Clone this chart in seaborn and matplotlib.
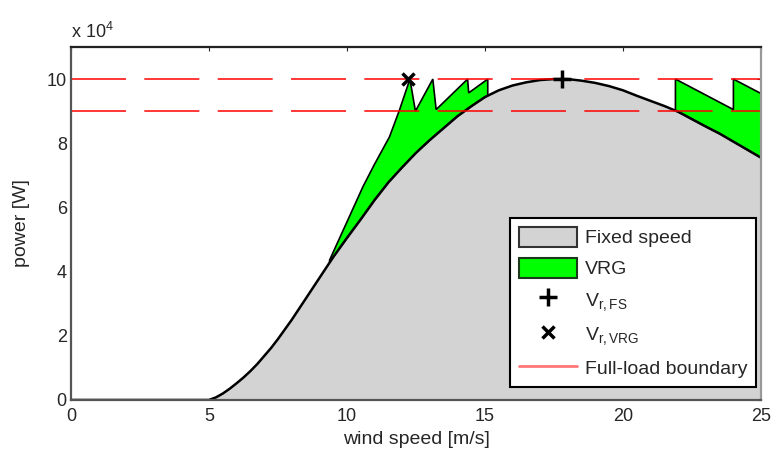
import numpy as np
import matplotlib
matplotlib.use("Agg")
import matplotlib.pyplot as plt
from matplotlib.patches import Patch
from matplotlib.lines import Line2D
from matplotlib.ticker import FuncFormatter
import seaborn as sns

# fixed speed power curve [W] vs wind speed [m/s]
wind = [0, 5, 5.25, 5.5, 5.75, 6, 6.25, 6.5, 6.75, 7, 7.25, 7.5, 7.75, 8,
        8.5, 9, 9.5, 10, 10.5, 11, 11.5, 12, 12.5, 13, 13.5, 14, 14.5, 15,
        15.5, 16, 16.5, 17, 17.5, 18, 18.5, 19, 19.5, 20, 20.5, 21, 21.5,
        22, 22.5, 23, 23.5, 24, 24.5, 25]
p_fixed = [0, 0, 800, 2000, 3500, 5200, 7000, 9000, 11200, 13700, 16200,
           19000, 22000, 25000, 31500, 38000, 44500, 50500, 56300, 62300,
           67800, 72500, 77000, 81000, 84700, 88400, 91500, 94400, 96500,
           98000, 99000, 99700, 100000, 100000, 99500, 98800, 97800, 96500,
           94800, 93200, 91600, 89800, 87500, 85200, 83000, 80500, 78000,
           75500]

# VRG upper boundary (two regions)
vrg1_wind = [9.37, 10.0, 10.58, 11.0, 11.54, 11.9, 12.28, 12.48, 13.11,
             13.23, 14.37, 14.41, 15.1]
vrg1_p = [43600, 55500, 66500, 73500, 82000, 90300, 100000, 90000, 100000,
          90500, 100000, 95700, 100000]
vrg2_wind = [21.9, 24.0, 24.0, 25.0]
vrg2_p = [100000, 90500, 100000, 95500]

v_fs = (17.8, 100000)
v_vrg = (12.2, 100000)
boundaries = [90000, 100000]

sns.set_style("white")
plt.rcParams['font.family'] = ['Liberation Sans', 'DejaVu Sans']
plt.rcParams['mathtext.fontset'] = 'custom'
plt.rcParams['mathtext.rm'] = 'Liberation Sans'
plt.rcParams['mathtext.it'] = 'Liberation Sans'

fig = plt.figure(figsize=(7.74, 4.54), dpi=100)
ax = fig.add_axes([0.0917, 0.119, 0.8915, 0.7775])

wind = np.array(wind)
p_fixed = np.array(p_fixed)


def vrg_polygon(uw, up):
    # upper edge then back along the fixed-speed curve
    lo, hi = uw[0], uw[-1]
    m = (wind > lo) & (wind < hi)
    xs = list(uw) + [hi] + list(wind[m][::-1]) + [lo]
    ys = list(up) + [np.interp(hi, wind, p_fixed)] + list(p_fixed[m][::-1]) + [np.interp(lo, wind, p_fixed)]
    return xs, ys


ax.fill_between(wind, 0, p_fixed, color='#d3d3d3', lw=0)
for uw, up in [(vrg1_wind, vrg1_p), (vrg2_wind, vrg2_p)]:
    xs, ys = vrg_polygon(uw, up)
    ax.fill(xs, ys, facecolor='#00ff00', edgecolor='black', lw=1.2)
sns.lineplot(x=wind, y=p_fixed, color='black', lw=1.8, ax=ax, sort=False)

for b in boundaries:
    ax.axhline(b, color='#ff0000', lw=1.1, dashes=(36, 12))

ax.plot(*v_fs, marker='+', color='black', ms=13, mew=2.5, ls='none')
ax.plot(*v_vrg, marker='x', color='black', ms=9, mew=2.5, ls='none')

ax.set_xlim(0, 25)
ax.set_ylim(0, 110000)
ax.set_xticks([0, 5, 10, 15, 20, 25])
ax.set_yticks([0, 20000, 40000, 60000, 80000, 100000])
ax.yaxis.set_major_formatter(FuncFormatter(lambda v, pos: f"{v / 1e4:g}"))
ax.tick_params(axis='both', direction='in', length=3, labelsize=13,
               top=True, right=True)
ax.tick_params(axis='x', pad=6)
ax.tick_params(axis='y', pad=3)
ax.set_xlabel('wind speed [m/s]', fontsize=14, labelpad=4)
ax.set_ylabel('power [W]', fontsize=14, labelpad=12)
ax.text(0.0, 1.015, 'x 10$^{4}$', transform=ax.transAxes, fontsize=13,
        ha='left', va='bottom')

for side, c in [('left', '#555555'), ('bottom', '#555555'),
                ('top', '#222222'), ('right', '#999999')]:
    ax.spines[side].set_color(c)
    ax.spines[side].set_linewidth(1.6)

handles = [
    Patch(facecolor='#d3d3d3', edgecolor='#333333', lw=1.5, label='Fixed speed'),
    Patch(facecolor='#00ff00', edgecolor='#1a3a1a', lw=1.5, label='VRG'),
    Line2D([], [], marker='+', color='black', ms=13, mew=2.5, ls='none',
           label='V$_\\mathregular{r,FS}$'),
    Line2D([], [], marker='x', color='black', ms=9, mew=2.5, ls='none',
           label='V$_\\mathregular{r,VRG}$'),
    Line2D([], [], color='#ff7777', lw=2, label='Full-load boundary'),
]
leg = ax.legend(handles=handles, loc='lower right',
                bbox_to_anchor=(0.993, 0.037), borderaxespad=0,
                fontsize=14, fancybox=False, frameon=True, framealpha=1,
                edgecolor='black', handlelength=3.0, handleheight=1.2,
                handletextpad=0.4, labelspacing=0.55, borderpad=0.45)
leg.get_frame().set_linewidth(1.5)

plt.savefig('out.png', dpi=100)
